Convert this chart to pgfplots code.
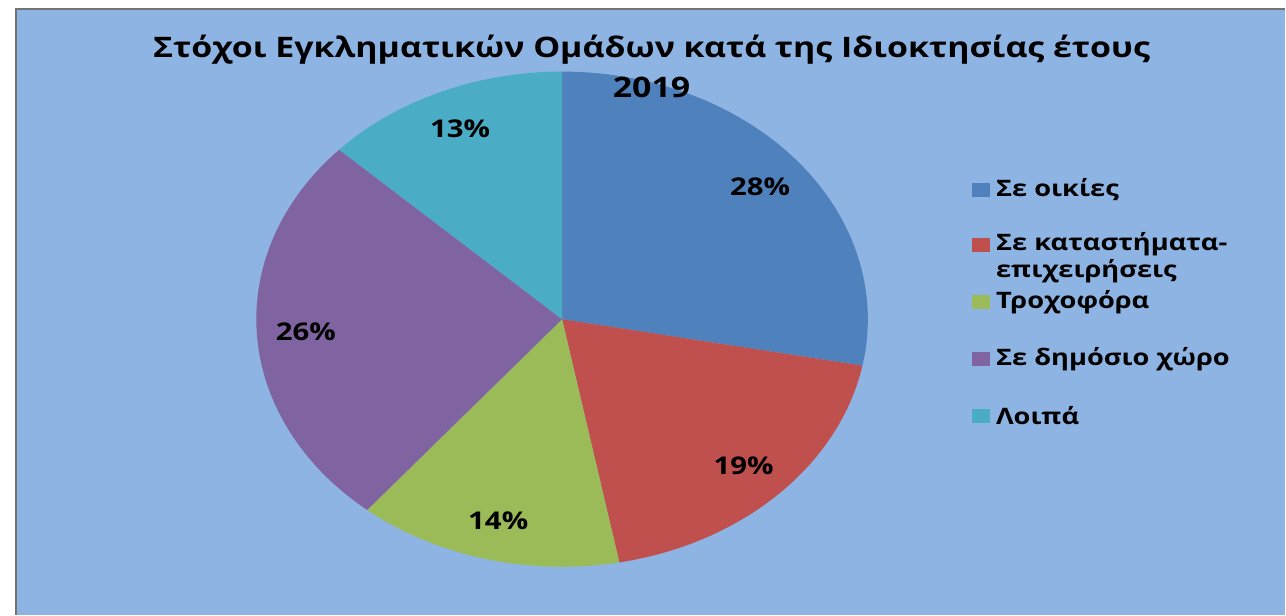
\documentclass[border=0pt]{standalone}
\usepackage{pgfplots}
\pgfplotsset{compat=1.18}
\usepackage{pgfplotstable}
\usepackage{fontspec}
\setmainfont{Open Sans}[FakeStretch=1.2]
\definecolor{bg}{HTML}{8EB4E3}
\definecolor{c0}{HTML}{4F81BD}
\definecolor{c1}{HTML}{C0504D}
\definecolor{c2}{HTML}{9BBB59}
\definecolor{c3}{HTML}{8064A2}
\definecolor{c4}{HTML}{4BACC6}
\pgfplotstableread[col sep=comma]{
idx,value
0,28
1,19
2,14
3,26
4,13
}\piedata
\begin{document}
\def\cum{0}
\pgfplotsforeachungrouped \i in {0,...,4}{%
  \pgfplotstablegetelem{\i}{value}\of\piedata
  \let\v\pgfplotsretval
  \pgfmathsetmacro{\s}{90-3.6*\cum}%
  \pgfmathsetmacro{\e}{90-3.6*(\cum+\v)}%
  \pgfmathsetmacro{\m}{(\s+\e)/2}%
  \expandafter\xdef\csname pieS\i\endcsname{\s}%
  \expandafter\xdef\csname pieE\i\endcsname{\e}%
  \expandafter\xdef\csname pieM\i\endcsname{\m}%
  \expandafter\xdef\csname pieV\i\endcsname{\v}%
  \pgfmathsetmacro{\cum}{\cum+\v}%
}%
\begin{tikzpicture}
\begin{axis}[x=0.5pt,y=0.5pt,xmin=0,xmax=1286,ymin=0,ymax=618,
  hide axis, clip=false, scale only axis]
\path (axis cs:0,0) rectangle (axis cs:1286,618);
\fill[bg] (axis cs:10,0) rectangle (axis cs:1286,609);
\draw[gray!90!black, line width=1pt] (axis cs:10,0) -- (axis cs:10,609) -- (axis cs:1286,609);
\pgfplotsforeachungrouped \i in {0,...,4}{%
  \edef\tmp{\noexpand\fill[c\i] (axis cs:559,297) -- ++(\csname pieS\i\endcsname:153.75pt and 124.5pt) arc[start angle=\csname pieS\i\endcsname, end angle=\csname pieE\i\endcsname, x radius=153.75pt, y radius=124.5pt] -- cycle;
  \noexpand\node[font=\noexpand\fontsize{12.3}{14}\noexpand\selectfont\noexpand\bfseries] at (axis cs:{559+0.84*307.5*cos(\csname pieM\i\endcsname)},{297+0.84*249*sin(\csname pieM\i\endcsname)}) {\csname pieV\i\endcsname\noexpand\%};}%
  \tmp
}
\node[font=\fontsize{14.2}{17}\selectfont\bfseries] at (axis cs:649,568) {Στόχοι Εγκληματικών Ομάδων κατά της Ιδιοκτησίας έτους};
\node[font=\fontsize{14.2}{17}\selectfont\bfseries] at (axis cs:649,530) {2019};
\fill[c0] (axis cs:971,420) rectangle (axis cs:989,434);
\fill[c1] (axis cs:971,365) rectangle (axis cs:989,379);
\fill[c2] (axis cs:971,307) rectangle (axis cs:989,321);
\fill[c3] (axis cs:971,250) rectangle (axis cs:989,264);
\fill[c4] (axis cs:971,193) rectangle (axis cs:989,207);
\tikzset{legtxt/.style={anchor=west,inner sep=0pt,font=\fontsize{11.4}{13}\selectfont\bfseries}}
\node[legtxt] at (axis cs:995,427) {Σε οικίες};
\node[legtxt] at (axis cs:995,372) {Σε καταστήματα-};
\node[legtxt] at (axis cs:995,345) {επιχειρήσεις};
\node[legtxt] at (axis cs:995,314) {Τροχοφόρα};
\node[legtxt] at (axis cs:995,257) {Σε δημόσιο χώρο};
\node[legtxt] at (axis cs:995,200) {Λοιπά};
\end{axis}
\end{tikzpicture}
\end{document}
